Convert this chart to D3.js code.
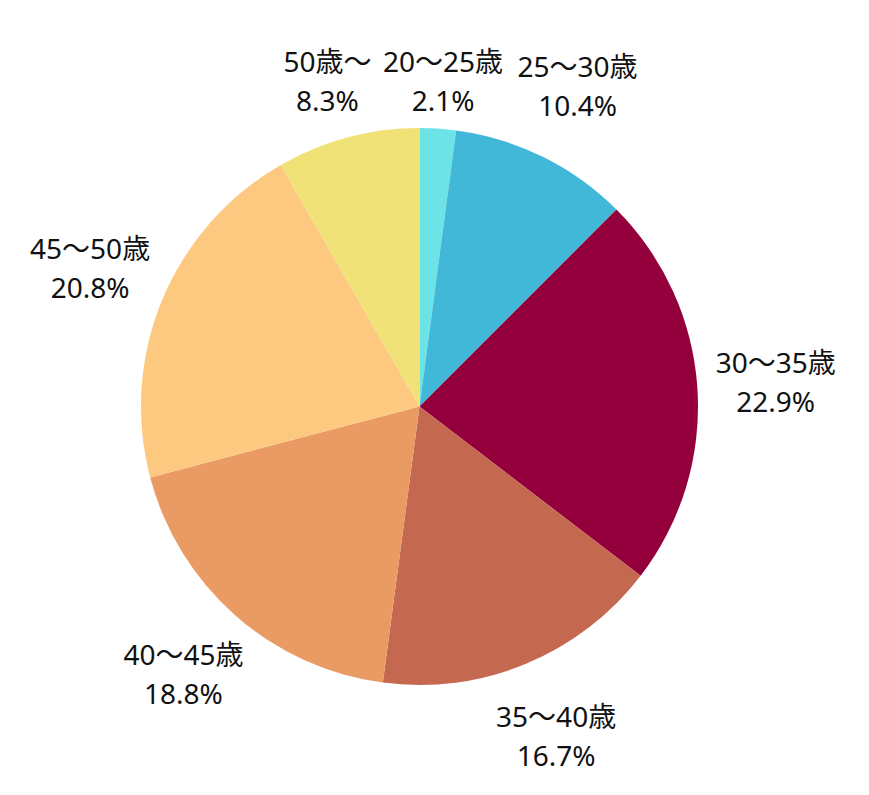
<!DOCTYPE html>
<html><head><meta charset="utf-8">
<script src="https://cdn.jsdelivr.net/npm/d3@7"></script>
<style>html,body{margin:0;padding:0;background:#fff;}</style>
</head><body>
<svg id="chart" width="869" height="795"></svg>
<script>
const categories = ["20〜25歳","25〜30歳","30〜35歳","35〜40歳","40〜45歳","45〜50歳","50歳〜"];
const values = [2.1, 10.4, 22.9, 16.7, 18.8, 20.8, 8.3];
const colors = ["#6ce3e6","#42b8d8","#94003b","#c56850","#ea9a63","#fdc880","#f1e278"];

const W = 869, H = 795, cx = 419.5, cy = 406.5, R = 278.5, LR = 357;
const svg = d3.select("#chart");
const g = svg.append("g").attr("transform", `translate(${cx},${cy})`);
const data = categories.map((c,i)=>({cat:c, val:values[i], col:colors[i]}));
const pie = d3.pie().value(d=>d.val).sort(null);
const arcs = pie(data);
const arc = d3.arc().innerRadius(0).outerRadius(R);
g.selectAll("path").data(arcs).join("path")
  .attr("d", arc).attr("fill", d=>d.data.col);

const labelArc = d3.arc().innerRadius(LR).outerRadius(LR);
const lab = g.selectAll("g.lab").data(arcs).join("g").attr("class","lab")
  .attr("transform", d=>{
    let [x,y] = labelArc.centroid(d);
    y = Math.max(y, 82 - cy);
    return `translate(${x},${y})`;
  });
const fontFam = "'Noto Sans','Noto Sans CJK JP',sans-serif";
lab.append("text").attr("text-anchor","middle").attr("y",-19.5).attr("dy","0.35em")
  .style("font-family",fontFam).style("font-size","28px").attr("fill","#111")
  .text(d=>d.data.cat);
lab.append("text").attr("text-anchor","middle").attr("y",19.5).attr("dy","0.35em")
  .style("font-family",fontFam).style("font-size","28px").attr("fill","#111")
  .text(d=>d.data.val.toFixed(1)+"%");
</script>
</body></html>
